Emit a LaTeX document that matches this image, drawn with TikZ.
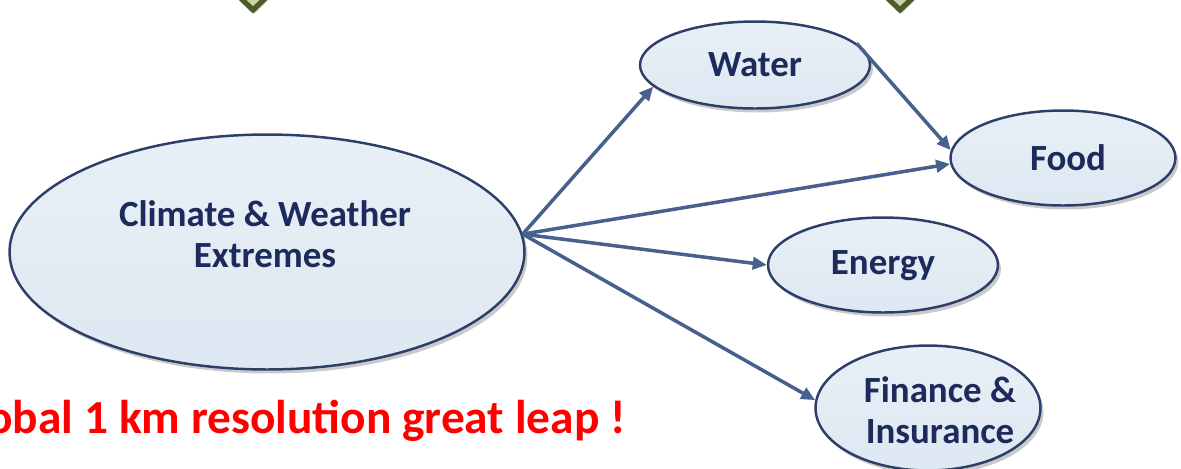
\documentclass[tikz,border=0pt]{standalone}
\usepackage{fontspec}
\setmainfont{Carlito}
\usetikzlibrary{shapes.geometric,shadows,arrows.meta}
\definecolor{ellfill}{RGB}{222,232,242}
\definecolor{ellline}{RGB}{45,62,105}
\definecolor{txtnavy}{RGB}{28,42,92}
\definecolor{arrowc}{RGB}{72,96,142}
\definecolor{olive}{RGB}{78,92,42}
\definecolor{olivefill}{RGB}{200,212,170}
\tikzset{
  bubble/.style={ellipse, draw=ellline, line width=1.4pt, inner sep=0pt,
    top color=ellfill!70!white, bottom color=ellfill,
    drop shadow={shadow xshift=0.06cm, shadow yshift=-0.08cm, opacity=0.35, fill=black!60}},
  lbl/.style={text=txtnavy, font=\fontsize{21}{25}\selectfont\bfseries, align=center, inner sep=0pt},
  link/.style={draw=arrowc, line width=2pt, -{Triangle[length=8pt,width=7pt]}},
  tip/.style={draw=olive, line width=3pt, fill=olivefill,
    drop shadow={shadow xshift=0.04cm, shadow yshift=-0.06cm, opacity=0.4}}
}
\begin{document}
\begin{tikzpicture}[x=0.02cm,y=-0.02cm]
\useasboundingbox (0,0) rectangle (1181,468);
% partial diamonds at top
\filldraw[tip] (228,-14) -- (253,10) -- (278,-14) -- cycle;
\filldraw[tip] (875,-14) -- (900,10) -- (925,-14) -- cycle;
% ellipses
\node[bubble, minimum width=10.3cm, minimum height=4.7cm] (clim) at (267,252) {};
\node[bubble, minimum width=4.6cm, minimum height=1.74cm] (wat) at (755,65) {};
\node[bubble, minimum width=4.5cm, minimum height=1.9cm] (food) at (1063,158) {};
\node[bubble, minimum width=4.6cm, minimum height=1.9cm] (en) at (883,265) {};
\node[bubble, minimum width=4.5cm, minimum height=2.5cm] (fin) at (928,408) {};
% labels
\node[lbl] (climt) at (265,234) {Climate \& Weather\\[-2pt]Extremes};
\node[lbl] (watt) at (755,65) {Water};
\node[lbl] (foodt) at (1068,158) {Food};
\node[lbl] (ent) at (883,266) {Energy};
\node[lbl] (fint) at (940,410) {Finance \&\\[-2pt]Insurance};
% connectors
\coordinate (hub) at (clim.4);
\draw[link] (hub) -- (wat.192);
\draw[link] (hub) -- (food.183);
\draw[link] (hub) -- (en.west);
\draw[link] (hub) -- (fin.176);
\draw[link] (wat.12) -- (food.176);
% red caption (cut at the left edge, as in the reference)
\node[anchor=base east, text=red, font=\fontsize{27}{32}\selectfont\bfseries, inner sep=0pt] (cap) at (626,433) {Global 1 km resolution great leap !};
\end{tikzpicture}
\end{document}
